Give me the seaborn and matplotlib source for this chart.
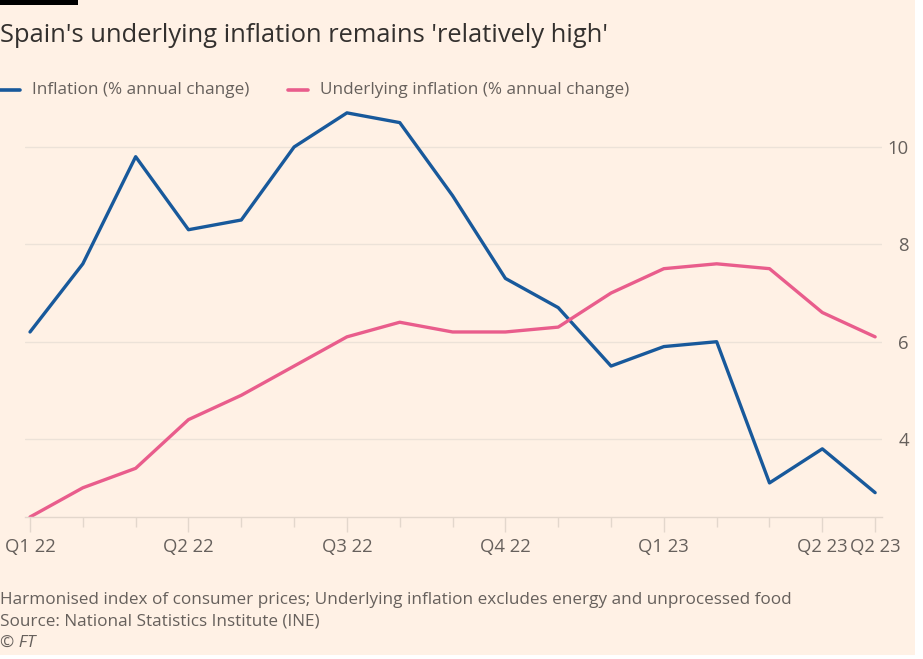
import matplotlib
matplotlib.use("Agg")
import matplotlib.pyplot as plt
from matplotlib.lines import Line2D
from matplotlib.patches import Rectangle
import seaborn as sns
import pandas as pd
import numpy as np

months = ["2022-01", "2022-02", "2022-03", "2022-04", "2022-05", "2022-06",
          "2022-07", "2022-08", "2022-09", "2022-10", "2022-11", "2022-12",
          "2023-01", "2023-02", "2023-03", "2023-04", "2023-05"]
inflation = [6.2, 7.6, 9.8, 8.3, 8.5, 10.0, 10.7, 10.5, 9.0, 7.3, 6.7, 5.5,
             5.9, 6.0, 3.1, 3.8, 2.9]
underlying = [2.4, 3.0, 3.4, 4.4, 4.9, 5.5, 6.1, 6.4, 6.2, 6.2, 6.3, 7.0,
              7.5, 7.6, 7.5, 6.6, 6.1]
series_names = ["Inflation (% annual change)", "Underlying inflation (% annual change)"]
tick_idx = [0, 3, 6, 9, 12, 15, 16]
tick_labels = ["Q1 22", "Q2 22", "Q3 22", "Q4 22", "Q1 23", "Q2 23", "Q2 23"]
y_ticks = [4, 6, 8, 10]

title = "Spain's underlying inflation remains 'relatively high'"
note = "Harmonised index of consumer prices; Underlying inflation excludes energy and unprocessed food"
source = "Source: National Statistics Institute (INE)"
credit = "© FT"

BG = "#FFF1E5"
BLUE = "#18599b"
PINK = "#e95d8c"
TXT = "#66605c"
GRID = "#ece2d8"

df = pd.DataFrame({
    "idx": list(range(len(months))) * 2,
    "value": inflation + underlying,
    "series": [series_names[0]] * len(months) + [series_names[1]] * len(months),
})

sns.set_theme(style="white")
plt.rcParams["font.family"] = ["Open Sans", "DejaVu Sans"]

fig = plt.figure(figsize=(9.23, 6.59), dpi=100)
fig.patch.set_facecolor("white")
fig.patches.append(Rectangle((0, 1 - 655 / 659), 915 / 923, 655 / 659,
                             transform=fig.transFigure, facecolor=BG,
                             edgecolor="none", zorder=-10))

ax = fig.add_axes([25 / 923, 1 - 517 / 659, (882 - 25) / 923, (517 - 108) / 659])
ax.set_facecolor(BG)

sns.lineplot(data=df, x="idx", y="value", hue="series",
             palette=[BLUE, PINK], linewidth=2.4, ax=ax, legend=False)

ax.set_xlim(-0.095, 16.13)
ax.set_ylim(2.4, 10.8)
ax.set_xlabel("")
ax.set_ylabel("")

for s in ["top", "left", "right"]:
    ax.spines[s].set_visible(False)
ax.spines["bottom"].set_color("#e3d7cc")
ax.spines["bottom"].set_linewidth(1.0)

ax.set_xticks(tick_idx)
ax.set_xticklabels(tick_labels)
minor = [i for i in range(len(months)) if i not in tick_idx]
ax.set_xticks(minor, minor=True)
ax.tick_params(axis="x", which="major", length=11, width=1, color="#e3d7cc",
               labelsize=13.3, labelcolor=TXT, pad=4, bottom=True)
ax.tick_params(axis="x", which="minor", length=7, width=1, color="#e3d7cc", bottom=True)

ax.yaxis.tick_right()
ax.set_yticks(y_ticks)
ax.set_yticklabels([str(v) for v in y_ticks])
ax.tick_params(axis="y", length=0, labelsize=13.3, labelcolor=TXT)
for t in ax.yaxis.get_major_ticks():
    t.set_pad(19.4)
    t.label2.set_horizontalalignment("right")
ax.grid(axis="y", color=GRID, linewidth=1)
ax.grid(axis="x", visible=False)

# top black bar
fig.patches.append(Rectangle((0, 1 - 5 / 659), 78 / 923, 5 / 659,
                             transform=fig.transFigure, facecolor="black",
                             edgecolor="none"))

fig.text(0, 1 - 35 / 659, title, fontsize=18.4, color="#33302e", va="center", ha="left")

# legend
ly = 1 - 90 / 659
fig.lines.append(Line2D([0, 20 / 923], [ly, ly], transform=fig.transFigure,
                        color=BLUE, linewidth=2.6))
fig.text(32 / 923, ly, series_names[0], fontsize=12.3, color=TXT, va="center", ha="left")
fig.lines.append(Line2D([288 / 923, 308 / 923], [ly, ly], transform=fig.transFigure,
                        color=PINK, linewidth=2.6))
fig.text(320 / 923, ly, series_names[1], fontsize=12.3, color=TXT, va="center", ha="left")

fig.text(0, 1 - 600 / 659, note, fontsize=12.3, color=TXT, va="center", ha="left")
fig.text(0, 1 - 622 / 659, source, fontsize=12.3, color=TXT, va="center", ha="left")
fig.text(0, 1 - 643 / 659, credit, fontsize=12.3, color=TXT, va="center", ha="left",
         style="italic")

fig.savefig("out.png", dpi=100, facecolor=fig.get_facecolor())
